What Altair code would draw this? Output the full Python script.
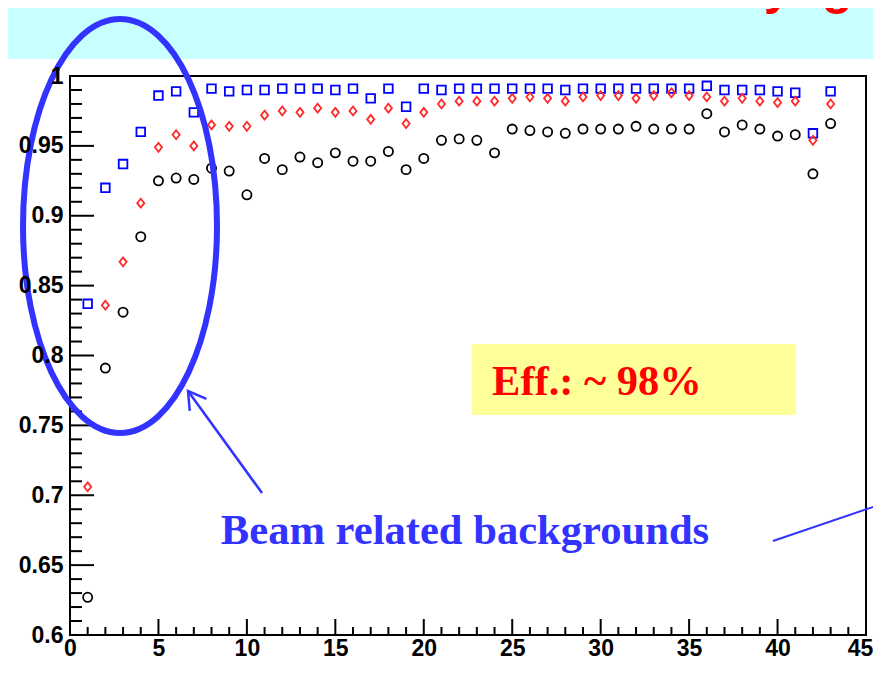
import altair as alt
import pandas as pd

# ---------------- data ----------------
runs = list(range(1, 44))
eff_blue = [0.837, 0.920, 0.937, 0.960, 0.986, 0.989, 0.974, 0.991, 0.989, 0.990,
            0.990, 0.991, 0.991, 0.991, 0.990, 0.991, 0.984, 0.991, 0.978, 0.991,
            0.990, 0.991, 0.991, 0.991, 0.991, 0.991, 0.991, 0.990, 0.991, 0.991,
            0.991, 0.991, 0.991, 0.991, 0.991, 0.993, 0.990, 0.990, 0.990, 0.989,
            0.988, 0.959, 0.989]
eff_red = [0.706, 0.836, 0.867, 0.909, 0.949, 0.958, 0.950, 0.965, 0.964, 0.964,
           0.972, 0.975, 0.974, 0.977, 0.974, 0.975, 0.969, 0.977, 0.966, 0.974,
           0.980, 0.982, 0.982, 0.982, 0.984, 0.985, 0.984, 0.982, 0.985, 0.986,
           0.986, 0.984, 0.986, 0.988, 0.986, 0.985, 0.982, 0.984, 0.982, 0.981,
           0.982, 0.954, 0.980]
eff_black = [0.627, 0.791, 0.831, 0.885, 0.925, 0.927, 0.926, 0.934, 0.932, 0.915,
             0.941, 0.933, 0.942, 0.938, 0.945, 0.939, 0.939, 0.946, 0.933, 0.941,
             0.954, 0.955, 0.954, 0.945, 0.962, 0.961, 0.960, 0.959, 0.962, 0.962,
             0.962, 0.964, 0.962, 0.962, 0.962, 0.973, 0.960, 0.965, 0.962, 0.957,
             0.958, 0.930, 0.966]
series_names = ["squares", "diamonds", "circles"]

x_label_values = [0, 5, 10, 15, 20, 25, 30, 35, 40, 45]
y_label_values = [0.6, 0.65, 0.7, 0.75, 0.8, 0.85, 0.9, 0.95, 1.0]
x_tick_values = list(range(0, 46))
y_tick_values = [round(0.6 + 0.01 * i, 2) for i in range(41)]

# annotation texts
title_text = ["Drift chamber efficiency: good"]
beam_text = ["Beam related backgrounds"]
eff_text = ["Eff.: ~ 98%"]

# ---------------- layout / styles ----------------
W, H = 796, 559
X_DOMAIN = [0, 45]
Y_DOMAIN = [0.6, 1.0]
BLUE_ANN = "#3333ff"

xs = alt.Scale(domain=X_DOMAIN, nice=False, zero=False)
ys = alt.Scale(domain=Y_DOMAIN, nice=False, zero=False)

df = pd.DataFrame({
    "run": runs * 3,
    "eff": eff_blue + eff_red + eff_black,
    "series": [series_names[0]] * len(runs) + [series_names[1]] * len(runs)
              + [series_names[2]] * len(runs),
})

x_ticks_df = pd.DataFrame({
    "v": x_tick_values,
    "y0": [Y_DOMAIN[0]] * len(x_tick_values),
    "major": [v in x_label_values for v in x_tick_values],
})
y_ticks_df = pd.DataFrame({
    "v": y_tick_values,
    "x0": [X_DOMAIN[0]] * len(y_tick_values),
    "major": [any(abs(v - m) < 1e-9 for m in y_label_values) for v in y_tick_values],
})

diamond_path = "M0,-1 L0.8,0 L0,1 L-0.8,0 Z"
k = 0.5523
a = 0.4686
ellipse_path = (f"M{a},0 C{a},{k} {k*a},1 0,1 C{-k*a},1 {-a},{k} {-a},0 "
                f"C{-a},{-k} {-k*a},-1 0,-1 C{k*a},-1 {a},{-k} {a},0 Z")
arrow_path = "M-0.515,0.857 L0,0 L0.515,0.857"
up_tick_path = "M0,0 L0,-1"
right_tick_path = "M0,0 L1,0"

label_font = dict(labelFont="Liberation Sans", labelFontWeight="bold",
                  labelFontSize=23, labelColor="black")

x_label_axis = alt.Axis(orient="bottom", values=x_label_values, ticks=False, tickSize=0,
                        domain=False, grid=False, title=None, labelPadding=2,
                        labelOverlap=False, labelFlush=False, format="d", zindex=1,
                        labelOffset={"condition": {"test": "datum.value === 45", "value": -6},
                                     "value": 0},
                        **label_font)
y_label_axis = alt.Axis(orient="left", values=y_label_values, ticks=False, tickSize=0,
                        domain=False, grid=False, title=None, labelPadding=7,
                        labelOverlap=False, labelFlush=False,
                        labelExpr="format(datum.value, '.2~f')", zindex=1,
                        **label_font)


def X(field="x"):
    return alt.X(f"{field}:Q", scale=xs, axis=x_label_axis, title=None)


def Y(field="y"):
    return alt.Y(f"{field}:Q", scale=ys, axis=y_label_axis, title=None)


# white slide panel
panel = alt.Chart(pd.DataFrame({"x": [-3.7], "x2": [46.6], "y": [1.0122], "y2": [0.56]})).mark_rect(
    fill="white").encode(x=X(), x2="x2", y=Y(), y2="y2")

# yellow box
ybox = alt.Chart(pd.DataFrame({"x": [22.73], "x2": [41.04], "y": [0.8082], "y2": [0.7574]})).mark_rect(
    fill="#ffff99").encode(x=X(), x2="x2", y=Y(), y2="y2")

# frame
frame = alt.Chart(pd.DataFrame({"x": [X_DOMAIN[0]], "x2": [X_DOMAIN[1]],
                                "y": [Y_DOMAIN[0]], "y2": [Y_DOMAIN[1]]})).mark_rect(
    fillOpacity=0, stroke="black", strokeWidth=2).encode(x=X(), x2="x2", y=Y(), y2="y2")

# inward tick marks (ROOT style)
x_ticks = alt.Chart(x_ticks_df).mark_point(
    shape=up_tick_path, filled=False, stroke="black", strokeWidth=2, opacity=1).encode(
    x=X("v"), y=Y("y0"),
    size=alt.condition("datum.major", alt.value(1024), alt.value(256)))
y_ticks = alt.Chart(y_ticks_df).mark_point(
    shape=right_tick_path, filled=False, stroke="black", strokeWidth=2, opacity=1).encode(
    x=X("x0"), y=Y("v"),
    size=alt.condition("datum.major", alt.value(2304), alt.value(576)))

points = alt.Chart(df).mark_point(filled=False, strokeWidth=1.8, opacity=1).encode(
    x=X("run"),
    y=Y("eff"),
    color=alt.Color("series:N", scale=alt.Scale(domain=series_names,
                                                range=["#0000ff", "#ff2a2a", "#000000"]),
                    legend=None),
    shape=alt.Shape("series:N", scale=alt.Scale(domain=series_names,
                                                range=["square", diamond_path, "circle"]),
                    legend=None),
    size=alt.Size("series:N", scale=alt.Scale(domain=series_names, range=[74, 84, 46]),
                  legend=None),
)

ellipse = alt.Chart(pd.DataFrame({"x": [2.827], "y": [0.8927]})).mark_point(
    shape=ellipse_path, size=171396, filled=False, stroke=BLUE_ANN, strokeWidth=6,
    opacity=1).encode(x=X(), y=Y())

arrow_line = alt.Chart(pd.DataFrame({"x": [10.854], "y": [0.7016], "x2": [6.671], "y2": [0.7746]})).mark_rule(
    color=BLUE_ANN, strokeWidth=2.5).encode(x=X(), y=Y(), x2="x2", y2="y2")

arrow_head = alt.Chart(pd.DataFrame({"x": [6.671], "y": [0.7746]})).mark_point(
    shape=arrow_path, size=1600, angle=324, filled=False, stroke=BLUE_ANN,
    strokeWidth=2.5, opacity=1).encode(x=X(), y=Y())

right_line = alt.Chart(pd.DataFrame({"x": [39.74], "y": [0.6673], "x2": [46.3], "y2": [0.6955]})).mark_rule(
    color=BLUE_ANN, strokeWidth=2).encode(x=X(), y=Y(), x2="x2", y2="y2")

beam = alt.Chart(pd.DataFrame({"x": [22.33], "y": [0.6651], "t": beam_text})).mark_text(
    font="Liberation Serif", fontWeight="bold", fontSize=42.6, color=BLUE_ANN,
    align="center", baseline="alphabetic").encode(x=X(), y=Y(), text="t:N")

eff = alt.Chart(pd.DataFrame({"x": [23.86], "y": [0.7717], "t": eff_text})).mark_text(
    font="Liberation Serif", fontWeight="bold", fontSize=42.5, color="#ff0000",
    align="left", baseline="alphabetic").encode(x=X(), y=Y(), text="t:N")

title = alt.Chart(pd.DataFrame({"x": [8.59], "y": [1.0515], "t": title_text})).mark_text(
    font="Liberation Sans", fontWeight="bold", fontSize=50, color="#ff0000",
    align="left", baseline="alphabetic").encode(x=X(), y=Y(), text="t:N")

chart = alt.layer(
    panel, ybox, frame, x_ticks, y_ticks, points, ellipse, arrow_line, arrow_head,
    right_line, beam, eff, title
).properties(
    width=W, height=H,
    autosize=alt.AutoSizeParams(type="none"),
    padding={"left": 62, "top": 68, "right": 7, "bottom": 26},
    background="#c8ffff",
).configure_view(stroke=None)

chart.save("out.html", embed_options={"renderer": "svg", "actions": False})
